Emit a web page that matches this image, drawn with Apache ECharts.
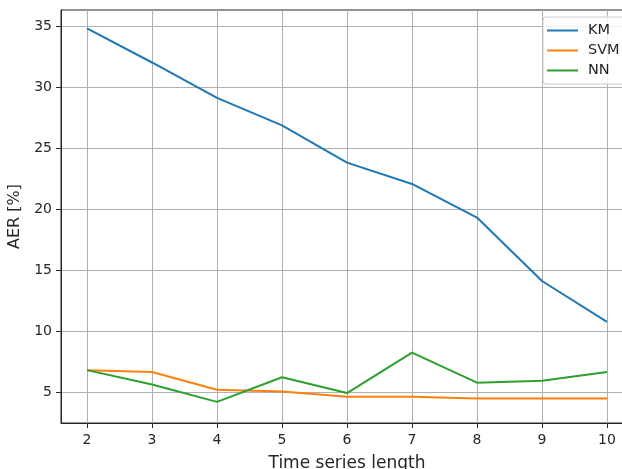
<!DOCTYPE html>
<html>
<head>
<meta charset="utf-8">
<script src="https://cdn.jsdelivr.net/npm/echarts@6/dist/echarts.min.js"></script>
<style>
  html, body { margin: 0; padding: 0; background: #fff; }
  #chart { width: 622px; height: 469px; }
</style>
</head>
<body>
<div id="chart"></div>
<script>
// 数据
const lengths = [2, 3, 4, 5, 6, 7, 8, 9, 10];
const km = [34.8, 32.0, 29.1, 26.85, 23.8, 22.05, 19.3, 14.1, 10.75];
const svm = [6.8, 6.65, 5.2, 5.06, 4.62, 4.62, 4.47, 4.47, 4.47];
const nn = [6.8, 5.63, 4.2, 6.22, 4.92, 8.23, 5.77, 5.93, 6.64];
const xTicks = [2, 3, 4, 5, 6, 7, 8, 9, 10];
const yTicks = [5, 10, 15, 20, 25, 30, 35];

const font = "DejaVu Sans";
const pairs = arr => arr.map((v, i) => [lengths[i], v]);

const mkSeries = (name, values, color) => ({
  name: name,
  type: "line",
  data: pairs(values),
  showSymbol: false,
  lineStyle: { color: color, width: 2 },
  itemStyle: { color: color }
});

const chart = echarts.init(document.getElementById("chart"));
chart.setOption({
  animation: false,
  backgroundColor: "#fff",
  textStyle: { fontFamily: font },
  grid: {
    left: 61,
    top: 10,
    right: -11,
    bottom: 46,
    outerBoundsMode: "none",
    containLabel: false,
    show: true,
    borderColor: "#262626",
    borderWidth: 1
  },
  legend: {
    orient: "vertical",
    left: 543,
    top: 17,
    padding: [6, 12, 6, 4],
    itemGap: 5,
    itemWidth: 31,
    itemHeight: 2,
    icon: "rect",
    backgroundColor: "rgba(255,255,255,0.8)",
    borderColor: "#cccccc",
    borderWidth: 1,
    borderRadius: 3,
    textStyle: { fontFamily: font, fontSize: 14.5, color: "#262626", padding: [0, 0, 0, 5] }
  },
  xAxis: {
    type: "value",
    min: 1.6,
    max: 10.4,
    name: "Time series length",
    nameLocation: "middle",
    nameGap: 32,
    nameTextStyle: { fontFamily: font, fontSize: 17, color: "#262626" },
    axisLine: { onZero: false, lineStyle: { color: "#262626", width: 1 } },
    axisTick: { show: true, length: 5, customValues: xTicks, lineStyle: { color: "#262626" } },
    axisLabel: { customValues: xTicks, fontFamily: font, fontSize: 14, color: "#262626", margin: 10 },
    splitLine: { show: true, lineStyle: { color: "#b0b0b0", width: 1 } }
  },
  yAxis: {
    type: "value",
    min: 2.47,
    max: 36.3,
    name: "AER [%]",
    nameLocation: "middle",
    nameGap: 30,
    nameTextStyle: { fontFamily: font, fontSize: 16, color: "#262626" },
    axisLine: { show: true, onZero: false, lineStyle: { color: "#262626", width: 1 } },
    axisTick: { show: true, length: 5, customValues: yTicks, lineStyle: { color: "#262626" } },
    axisLabel: { customValues: yTicks, fontFamily: font, fontSize: 14, color: "#262626", margin: 9 },
    splitLine: { show: true, lineStyle: { color: "#b0b0b0", width: 1 } }
  },
  series: [
    mkSeries("KM", km, "#1f77b4"),
    mkSeries("SVM", svm, "#ff7f0e"),
    mkSeries("NN", nn, "#2ca02c")
  ]
});
</script>
</body>
</html>
